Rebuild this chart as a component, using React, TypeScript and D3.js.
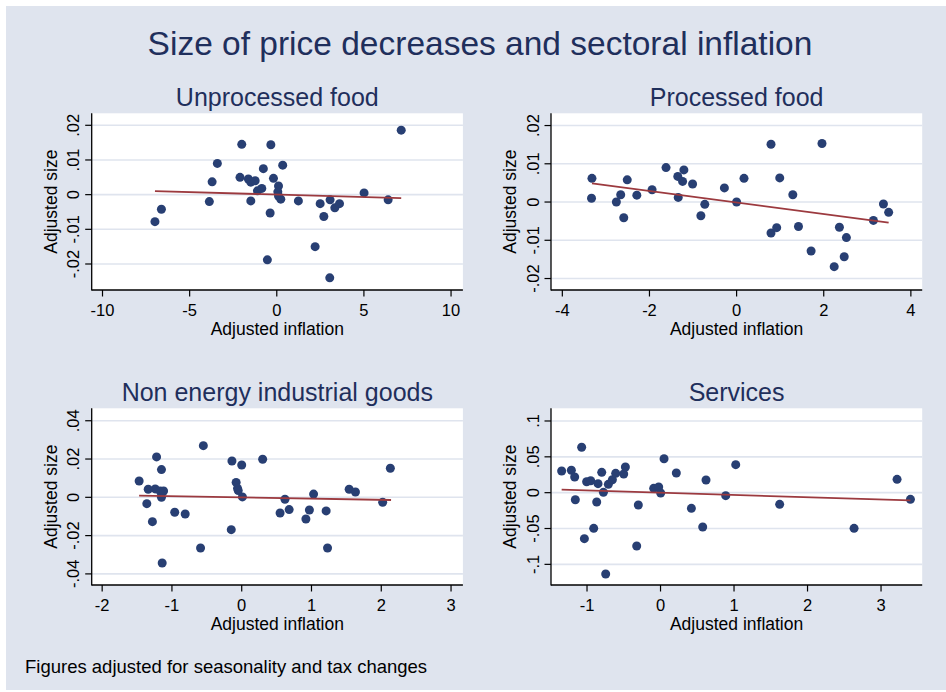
import React from "react";
import * as d3 from "d3";

// ---------- Data ----------
const mainTitle = "Size of price decreases and sectoral inflation";
const noteText = "Figures adjusted for seasonality and tax changes";
const xAxisTitle = "Adjusted inflation";
const yAxisTitle = "Adjusted size";

// Unprocessed food
const unprocessedX = [-6.99, -6.62, -3.87, -3.71, -3.41, -2.11, -2.01, -1.63, -1.49, -1.49, -1.24, -1.11, -0.86, -0.77, -0.38, -0.54, -0.34, -0.19, 0.10, 0.06, 0.10, 0.23, 0.34, 1.24, 2.20, 2.49, 2.70, 3.06, 3.04, 3.33, 3.60, 5.01, 6.39, 7.14];
const unprocessedY = [-0.0078, -0.0042, -0.0020, 0.0037, 0.0090, 0.0050, 0.0145, 0.0045, -0.0018, 0.0036, 0.0040, 0.0011, 0.0018, 0.0075, -0.0053, -0.0188, 0.0144, 0.0047, 0.0025, 0.0008, -0.0004, -0.0013, 0.0085, -0.0018, -0.0150, -0.0026, -0.0063, -0.0015, -0.0240, -0.0038, -0.0026, 0.0005, -0.0015, 0.0186];
const unprocessedFitX = [-6.99, 7.14];
const unprocessedFitY = [0.0010, -0.0010];
const unprocessedXDomain = [-10.62, 10.68];
const unprocessedYDomain = [-0.0275, 0.02346];
const unprocessedXTicks = [-10, -5, 0, 5, 10];
const unprocessedYTicks = [0.02, 0.01, 0, -0.01, -0.02];
const unprocessedYLabels = [".02", ".01", "0", "-.01", "-.02"];

// Processed food
const processedX = [-3.32, -3.33, -2.76, -2.66, -2.59, -2.51, -2.29, -1.94, -1.62, -1.35, -1.34, -1.24, -1.21, -1.01, -0.82, -0.73, -0.28, 0.00, 0.17, 0.79, 0.79, 0.92, 0.99, 1.29, 1.42, 1.71, 1.96, 2.24, 2.36, 2.47, 2.52, 3.14, 3.37, 3.49];
const processedY = [0.0062, 0.0010, 0.0000, 0.0019, -0.0041, 0.0058, 0.0018, 0.0032, 0.0090, 0.0067, 0.0012, 0.0054, 0.0084, 0.0047, -0.0036, -0.0006, 0.0037, 0.0000, 0.0062, 0.0151, -0.0081, -0.0067, 0.0063, 0.0019, -0.0064, -0.0128, 0.0153, -0.0169, -0.0066, -0.0143, -0.0093, -0.0048, -0.0005, -0.0027];
const processedFitX = [-3.32, 3.49];
const processedFitY = [0.0049, -0.0054];
const processedXDomain = [-4.26, 4.26];
const processedYDomain = [-0.0230, 0.0232];
const processedXTicks = [-4, -2, 0, 2, 4];
const processedYTicks = [0.02, 0.01, 0, -0.01, -0.02];
const processedYLabels = [".02", ".01", "0", "-.01", "-.02"];

// Non energy industrial goods
const neigX = [-1.47, -1.36, -1.34, -1.28, -1.24, -1.22, -1.17, -1.15, -1.15, -1.14, -1.12, -0.96, -0.81, -0.59, -0.55, -0.15, -0.14, -0.08, -0.06, -0.05, 0.00, 0.01, 0.30, 0.55, 0.62, 0.68, 0.92, 0.97, 1.03, 1.21, 1.23, 1.54, 1.63, 2.02, 2.13];
const neigY = [0.0085, -0.0033, 0.0042, -0.0127, 0.0044, 0.0211, 0.0033, 0.0145, 0.0000, -0.0343, 0.0033, -0.0078, -0.0087, -0.0265, 0.0270, -0.0169, 0.0190, 0.0078, 0.0047, 0.0035, 0.0169, 0.0002, 0.0199, -0.0082, -0.0010, -0.0064, -0.0113, -0.0066, 0.0017, -0.0071, -0.0265, 0.0042, 0.0028, -0.0026, 0.0152];
const neigFitX = [-1.47, 2.14];
const neigFitY = [0.0009, -0.0014];
const neigXDomain = [-2.15, 3.17];
const neigYDomain = [-0.0458, 0.0465];
const neigXTicks = [-2, -1, 0, 1, 2, 3];
const neigYTicks = [0.04, 0.02, 0, -0.02, -0.04];
const neigYLabels = [".04", ".02", "0", "-.02", "-.04"];

// Services
const servicesX = [-1.345, -1.213, -1.168, -1.159, -1.073, -1.036, -1.005, -0.950, -0.909, -0.868, -0.850, -0.800, -0.777, -0.746, -0.710, -0.655, -0.610, -0.501, -0.478, -0.324, -0.302, -0.093, -0.025, 0.002, 0.048, 0.215, 0.420, 0.574, 0.619, 0.887, 1.023, 1.621, 2.633, 3.218, 3.400];
const servicesY = [0.0302, 0.0312, 0.0219, -0.0098, 0.0633, -0.0642, 0.0153, 0.0167, -0.0498, -0.0130, 0.0126, 0.0284, 0.0005, -0.1135, 0.0116, 0.0181, 0.0270, 0.0260, 0.0358, -0.0744, -0.0172, 0.0060, 0.0079, -0.0005, 0.0474, 0.0274, -0.0219, -0.0479, 0.0177, -0.0042, 0.0391, -0.0163, -0.0498, 0.0186, -0.0093];
const servicesFitX = [-1.345, 3.40];
const servicesFitY = [0.0042, -0.0107];
const servicesXDomain = [-1.49, 3.56];
const servicesYDomain = [-0.1288, 0.1177];
const servicesXTicks = [-1, 0, 1, 2, 3];
const servicesYTicks = [0.1, 0.05, 0, -0.05, -0.1];
const servicesYLabels = [".1", ".05", "0", "-.05", "-.1"];

const panelTitles = ["Unprocessed food", "Processed food", "Non energy industrial goods", "Services"];

// ---------- Styling ----------
const W = 946;
const H = 692;
const FONT = "'Liberation Sans', Arial, Helvetica, sans-serif";
const BG = "#dfe4ee";
const TEXT = "#1f2f5c";
const DOT = "#283f73";
const FIT = "#9c3a3f";
const GRID = "#dfe4ee";

const colLeft = [91.7, 551];
const plotW = 371.2;
const rowTop = [113.3, 408.3];
const plotH = 176.7;

type Panel = {
  title: string;
  xs: number[];
  ys: number[];
  fitX: number[];
  fitY: number[];
  xDomain: number[];
  yDomain: number[];
  xTicks: number[];
  yTicks: number[];
  yLabels: string[];
};

const panels: Panel[] = [
  { title: panelTitles[0], xs: unprocessedX, ys: unprocessedY, fitX: unprocessedFitX, fitY: unprocessedFitY, xDomain: unprocessedXDomain, yDomain: unprocessedYDomain, xTicks: unprocessedXTicks, yTicks: unprocessedYTicks, yLabels: unprocessedYLabels },
  { title: panelTitles[1], xs: processedX, ys: processedY, fitX: processedFitX, fitY: processedFitY, xDomain: processedXDomain, yDomain: processedYDomain, xTicks: processedXTicks, yTicks: processedYTicks, yLabels: processedYLabels },
  { title: panelTitles[2], xs: neigX, ys: neigY, fitX: neigFitX, fitY: neigFitY, xDomain: neigXDomain, yDomain: neigYDomain, xTicks: neigXTicks, yTicks: neigYTicks, yLabels: neigYLabels },
  { title: panelTitles[3], xs: servicesX, ys: servicesY, fitX: servicesFitX, fitY: servicesFitY, xDomain: servicesXDomain, yDomain: servicesYDomain, xTicks: servicesXTicks, yTicks: servicesYTicks, yLabels: servicesYLabels },
];

function PanelView({ p, left, top }: { p: Panel; left: number; top: number }) {
  const x = d3.scaleLinear().domain(p.xDomain).range([left, left + plotW]);
  const y = d3.scaleLinear().domain(p.yDomain).range([top + plotH, top]);
  const bottom = top + plotH;
  const line = d3
    .line<number>()
    .x((_, i) => x(p.fitX[i]))
    .y((v) => y(v));
  const cx = left + plotW / 2;
  const cy = top + plotH / 2;
  return (
    <g>
      <text x={cx} y={top - 7.3} textAnchor="middle" fontSize={25} fill={TEXT} fontFamily={FONT}>
        {p.title}
      </text>
      <rect x={left} y={top} width={plotW} height={plotH} fill="#ffffff" />
      {p.yTicks.map((t) => (
        <line key={"g" + t} x1={left} x2={left + plotW} y1={y(t)} y2={y(t)} stroke={GRID} strokeWidth={1.6} />
      ))}
      {p.xs.map((v, i) => (
        <circle key={i} cx={x(v)} cy={y(p.ys[i])} r={4.5} fill={DOT} />
      ))}
      <path d={line(p.fitY) || ""} fill="none" stroke={FIT} strokeWidth={1.8} />
      <line x1={left} x2={left} y1={top} y2={bottom + 0.6} stroke="#000" strokeWidth={1.3} />
      <line x1={left} x2={left + plotW} y1={bottom} y2={bottom} stroke="#000" strokeWidth={1.3} />
      {p.xTicks.map((t) => (
        <g key={"x" + t}>
          <line x1={x(t)} x2={x(t)} y1={bottom} y2={bottom + 6.5} stroke="#000" strokeWidth={1.2} />
          <text x={x(t)} y={bottom + 25.5} textAnchor="middle" fontSize={16.5} fill="#000" fontFamily={FONT}>
            {d3.format("")(t).replace("−", "-")}
          </text>
        </g>
      ))}
      {p.yTicks.map((t, i) => (
        <g key={"y" + t}>
          <line x1={left - 6.5} x2={left} y1={y(t)} y2={y(t)} stroke="#000" strokeWidth={1.2} />
          <text
            transform={`translate(${left - 12.5},${y(t)}) rotate(-90)`}
            textAnchor="middle"
            fontSize={16.5}
            fill="#000"
            fontFamily={FONT}
          >
            {p.yLabels[i]}
          </text>
        </g>
      ))}
      <text x={cx} y={bottom + 45} textAnchor="middle" fontSize={17.5} fill="#000" fontFamily={FONT}>
        {xAxisTitle}
      </text>
      <text
        transform={`translate(${left - 35},${cy}) rotate(-90)`}
        textAnchor="middle"
        fontSize={17.5}
        fill="#000"
        fontFamily={FONT}
      >
        {yAxisTitle}
      </text>
    </g>
  );
}

export default function App() {
  return (
    <svg
      width={W}
      height={H}
      viewBox={`0 0 ${W} ${H}`}
      style={{ position: "absolute", left: 0, top: 0, background: "#ffffff" }}
    >
      <rect x={6} y={6} width={W - 6} height={684} fill={BG} />
      <text x={480} y={55} textAnchor="middle" fontSize={33.5} fill={TEXT} fontFamily={FONT}>
        {mainTitle}
      </text>
      {panels.map((p, i) => (
        <PanelView key={i} p={p} left={colLeft[i % 2]} top={rowTop[Math.floor(i / 2)]} />
      ))}
      <text x={25} y={673} fontSize={18.5} fill="#000" fontFamily={FONT}>
        {noteText}
      </text>
    </svg>
  );
}
